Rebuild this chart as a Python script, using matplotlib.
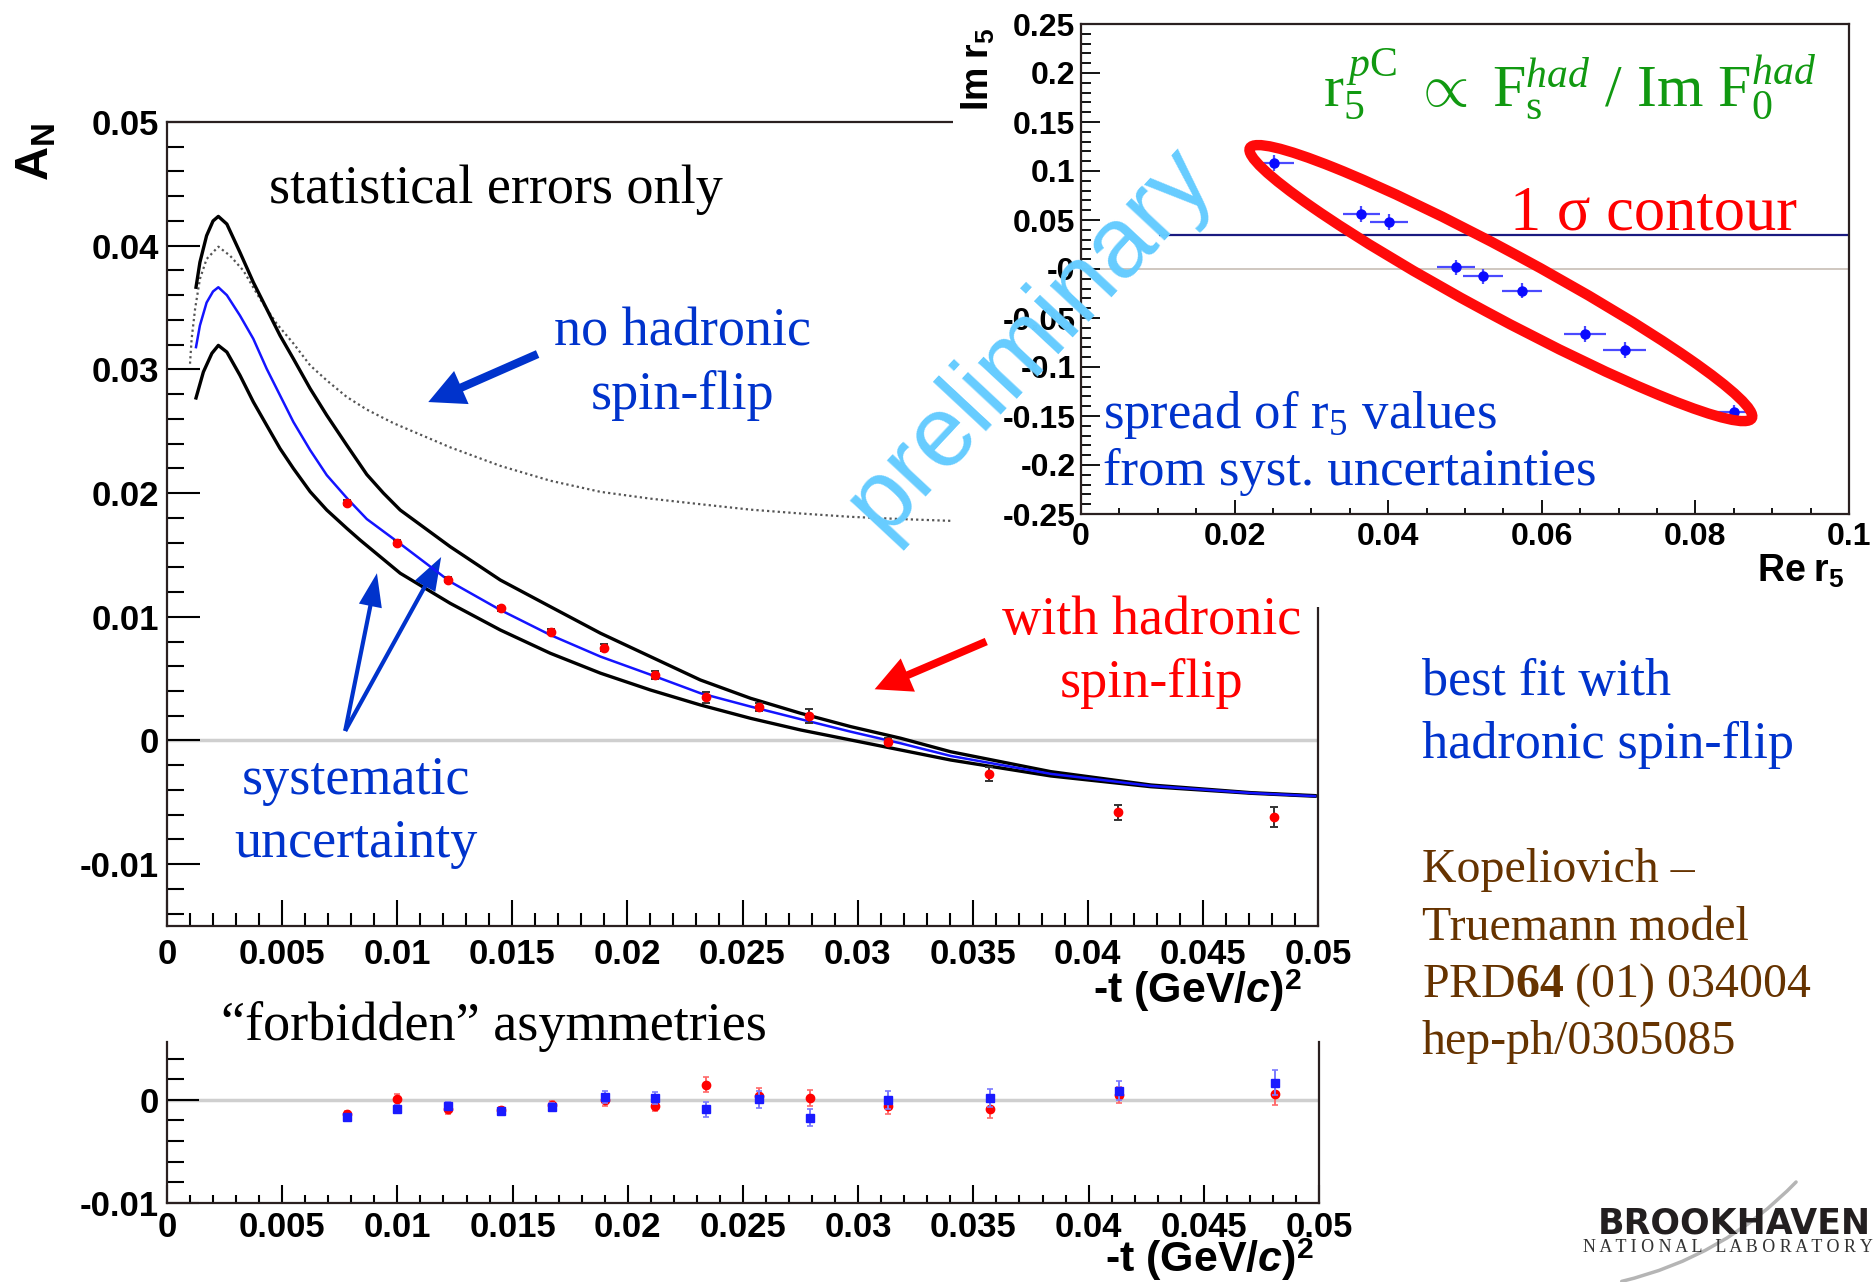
import numpy as np
import matplotlib
matplotlib.use("Agg")
import matplotlib.pyplot as plt
from matplotlib.ticker import FixedLocator, FixedFormatter, MultipleLocator
from matplotlib.patches import Rectangle, Ellipse, FancyArrowPatch
from matplotlib import transforms

plt.rcParams['font.family'] = ['Liberation Sans', 'DejaVu Sans']
plt.rcParams['font.weight'] = 'bold'
plt.rcParams['mathtext.fontset'] = 'custom'
plt.rcParams['mathtext.rm'] = 'Liberation Serif:weight=normal'
plt.rcParams['mathtext.it'] = 'Liberation Serif:style=italic:weight=normal'
plt.rcParams['mathtext.bf'] = 'Liberation Serif:weight=bold'
plt.rcParams['mathtext.sf'] = 'Liberation Sans:weight=bold'
plt.rcParams['mathtext.tt'] = 'Liberation Sans:style=italic:weight=bold'

# ---------------- data ----------------
t_vals = [0.0078, 0.0100, 0.0122, 0.0145, 0.0167, 0.0190, 0.0212,
          0.0234, 0.0257, 0.0279, 0.0313, 0.0357, 0.0413, 0.0481]
an_vals = [0.0192, 0.0160, 0.0130, 0.0107, 0.0088, 0.0075, 0.0053,
           0.0035, 0.0027, 0.0020, -0.0001, -0.0027, -0.0058, -0.0062]
an_err = [0.0002, 0.0002, 0.0002, 0.0002, 0.0002, 0.0003, 0.0003,
          0.00045, 0.0003, 0.00055, 0.0003, 0.00055, 0.0006, 0.0008]

fit_t = [0.00126, 0.00143, 0.00172, 0.00200, 0.00223, 0.0026, 0.00317, 0.00375, 0.00433,
         0.00491, 0.00549, 0.00622, 0.00694, 0.00786, 0.00868, 0.01013, 0.0123,
         0.01448, 0.01665, 0.01883, 0.021, 0.02317, 0.02535, 0.02752, 0.0297,
         0.03187, 0.03404, 0.03839, 0.04274, 0.04709, 0.04987]
fit_an = [0.0318, 0.03355, 0.0354, 0.0363, 0.03664, 0.0360, 0.03435, 0.03247, 0.03005,
          0.0279, 0.02575, 0.02347, 0.02145, 0.0195, 0.0179, 0.0159, 0.01284,
          0.01055, 0.00853, 0.00678, 0.00532, 0.00382, 0.00274, 0.00172, 0.00071,
          -0.00023, -0.00125, -0.0027, -0.00367, -0.00425, -0.0045]

sys_hi_t = [0.00126, 0.00143, 0.00172, 0.00200, 0.00223, 0.0026, 0.00317, 0.00375, 0.00433,
            0.00491, 0.00549, 0.00622, 0.00694, 0.00781, 0.00868, 0.00940, 0.01013, 0.0123,
            0.01448, 0.01665, 0.01883, 0.021, 0.02317, 0.02535, 0.02752, 0.0297,
            0.03187, 0.03404, 0.03839, 0.04274, 0.04709, 0.04987]
sys_hi_an = [0.03664, 0.03866, 0.04081, 0.04200, 0.04237, 0.04175, 0.03946, 0.03704, 0.03489,
             0.03274, 0.03086, 0.02844, 0.02629, 0.02387, 0.0215, 0.0200, 0.01863, 0.01567,
             0.01297, 0.01082, 0.00867, 0.00678, 0.00489, 0.00341, 0.0022, 0.00112,
             0.00018, -0.00091, -0.00252, -0.0036, -0.00422, -0.00446]

sys_lo_t = [0.00126, 0.00158, 0.00195, 0.00223, 0.0026, 0.00317, 0.00375, 0.00433, 0.00491,
            0.00549, 0.00622, 0.00694, 0.00781, 0.00839, 0.01013, 0.0123, 0.01448,
            0.01665, 0.01883, 0.021, 0.02317, 0.02535, 0.02752, 0.0297, 0.03187,
            0.03404, 0.03839, 0.04274, 0.04709, 0.04987]
sys_lo_an = [0.02769, 0.02979, 0.0313, 0.03194, 0.0314, 0.02952, 0.02737, 0.02548, 0.0236,
             0.02199, 0.02011, 0.01863, 0.01715, 0.0162, 0.01352, 0.01109, 0.00893,
             0.00705, 0.00544, 0.00408, 0.00287, 0.00179, 0.00085, 0.00004, -0.00077,
             -0.00158, -0.00287, -0.00374, -0.00427, -0.00451]

nohad_t = [0.0010, 0.00107, 0.00122, 0.00143, 0.00172, 0.00223, 0.00274, 0.00332,
           0.00404, 0.00477, 0.00549, 0.00622, 0.00694, 0.00781, 0.00868, 0.00984,
           0.0123, 0.01448, 0.01665, 0.01883, 0.021, 0.02317, 0.02535, 0.02752,
           0.0297, 0.03187, 0.03412]
nohad_an = [0.03046, 0.03247, 0.03489, 0.03731, 0.03892, 0.03992, 0.03919, 0.03798,
            0.0357, 0.03368, 0.0321, 0.03032, 0.02911, 0.02777, 0.02675, 0.02565,
            0.0237, 0.0222, 0.0210, 0.0201, 0.01955, 0.0191, 0.01866, 0.01835,
            0.01808, 0.0179, 0.01775]

forb_red = [-0.00135, 0.00003, -0.00094, -0.0010, -0.00048, -0.00006, -0.0006,
            0.00148, 0.0004, 0.00016, -0.0006, -0.00094, 0.00048, 0.00058]
forb_red_err = [0.0003, 0.0005, 0.0004, 0.0003, 0.0004, 0.0005, 0.0005,
                0.0007, 0.0007, 0.0008, 0.0008, 0.0008, 0.0008, 0.0011]
forb_blue = [-0.00168, -0.00087, -0.0006, -0.00106, -0.00071, 0.00026, 0.00016,
             -0.00094, 0.00003, -0.00174, 0.0, 0.00016, 0.0009, 0.00165]
forb_blue_err = [0.0003, 0.0004, 0.0004, 0.0003, 0.0004, 0.0006, 0.0006,
                 0.0007, 0.0008, 0.0008, 0.0009, 0.0009, 0.0009, 0.0012]

re_r5 = [0.0251, 0.0365, 0.0401, 0.0488, 0.0524, 0.0574, 0.0656, 0.0708, 0.0850]
im_r5 = [0.108, 0.0564, 0.0477, 0.0016, -0.0075, -0.0221, -0.0666, -0.0824, -0.1463]
re_r5_err = [0.0026, 0.0024, 0.0025, 0.0025, 0.0026, 0.0026, 0.0027, 0.0028, 0.0027]
im_r5_err = [0.008, 0.008, 0.008, 0.008, 0.008, 0.008, 0.008, 0.008, 0.008]
best_r5_level = 0.0345
best_r5_start = 0.0101
contour_center = (0.05467, -0.01439)

main_xticks = [0, 0.005, 0.01, 0.015, 0.02, 0.025, 0.03, 0.035, 0.04, 0.045, 0.05]
main_xticklabels = ['0', '0.005', '0.01', '0.015', '0.02', '0.025', '0.03',
                    '0.035', '0.04', '0.045', '0.05']
main_yticks = [-0.01, 0, 0.01, 0.02, 0.03, 0.04, 0.05]
main_yticklabels = ['-0.01', '0', '0.01', '0.02', '0.03', '0.04', '0.05']
forb_yticks = [-0.01, 0]
forb_yticklabels = ['-0.01', '0']
inset_xticks = [0, 0.02, 0.04, 0.06, 0.08, 0.1]
inset_xticklabels = ['0', '0.02', '0.04', '0.06', '0.08', '0.1']
inset_yticks = [-0.25, -0.2, -0.15, -0.1, -0.05, 0, 0.05, 0.1, 0.15, 0.2, 0.25]
inset_yticklabels = ['-0.25', '-0.2', '-0.15', '-0.1', '-0.05', '-0', '0.05',
                     '0.1', '0.15', '0.2', '0.25']

# ---------------- figure ----------------
W, H = 1873, 1282
fig = plt.figure(figsize=(W / 100, H / 100), dpi=100)
fig.patch.set_facecolor('white')


def fx(X):
    return X / W


def fy(Y):
    return 1 - Y / H


def ftext(X, Y, s, **kw):
    return fig.text(fx(X), fy(Y), s, **kw)


SERIF = dict(family=['Liberation Serif', 'DejaVu Serif'], weight='normal')
BLUE_TXT = '#0033cc'
FRAME = '#2a2020'

# ---------- main panel ----------
ax = fig.add_axes([fx(167), fy(926), (1318 - 167) / W, (926 - 122) / H])
ax.set_zorder(0)
ax.set_xlim(0, 0.05)
ax.set_ylim(-0.015, 0.05)
ax.axhline(0, color='#cfcfcf', lw=2.5, zorder=1)
ax.plot(nohad_t, nohad_an, color='#555555', lw=1.6, ls=(0, (1, 1.4)), zorder=2)
ax.plot(sys_hi_t, sys_hi_an, color='black', lw=2.4, zorder=3, solid_joinstyle='round')
ax.plot(sys_lo_t, sys_lo_an, color='black', lw=2.4, zorder=3, solid_joinstyle='round')
ax.plot(fit_t, fit_an, color='#1414ff', lw=1.8, zorder=4, solid_joinstyle='round')
ax.errorbar(t_vals, an_vals, yerr=an_err, fmt='o', color='#ff0000', ms=6,
            ecolor='#333333', elinewidth=1.4, capsize=3, capthick=1.4, zorder=5)

ax.xaxis.set_major_locator(FixedLocator(main_xticks))
ax.xaxis.set_major_formatter(FixedFormatter(main_xticklabels))
ax.xaxis.set_minor_locator(MultipleLocator(0.001))
ax.yaxis.set_major_locator(FixedLocator(main_yticks))
ax.yaxis.set_major_formatter(FixedFormatter(main_yticklabels))
ax.yaxis.set_minor_locator(MultipleLocator(0.002))
ax.tick_params(which='both', direction='in', top=False, right=False,
               colors='black', width=1.5, labelsize=25)
ax.tick_params(axis='y', which='major', length=24, pad=6)
ax.tick_params(axis='y', which='minor', length=12)
ax.tick_params(axis='x', which='major', length=19, pad=9)
ax.tick_params(axis='x', which='minor', length=9.5)
for s in ax.spines.values():
    s.set_linewidth(1.6)
    s.set_color(FRAME)

# arrows
ax.annotate('', xy=(0.01135, 0.02736), xytext=(0.0161, 0.03124),
            arrowprops=dict(arrowstyle='simple,head_length=0.65,head_width=0.65,tail_width=0.15',
                            mutation_scale=40, color='#0033cc', lw=0, shrinkA=0, shrinkB=0))
ax.annotate('', xy=(0.03074, 0.00414), xytext=(0.03559, 0.0080),
            arrowprops=dict(arrowstyle='simple,head_length=0.65,head_width=0.65,tail_width=0.14',
                            mutation_scale=40, color='#ff0000', lw=0, shrinkA=0, shrinkB=0))
for tip in [(0.00912, 0.01352), (0.01191, 0.01483)]:
    ax.annotate('', xy=tip, xytext=(0.00774, 0.00077),
                arrowprops=dict(arrowstyle='simple,head_length=0.6,head_width=0.42,tail_width=0.075',
                                mutation_scale=40, color='#0033cc', lw=0, shrinkA=0, shrinkB=0))

# ---------- "forbidden" panel ----------
ax3 = fig.add_axes([fx(167), fy(1203), (1319 - 167) / W, (1203 - 1042) / H])
ax3.set_xlim(0, 0.05)
ax3.set_ylim(-0.01, 0.0056)
ax3.axhline(0, color='#cfcfcf', lw=2.5, zorder=1)
ax3.errorbar(t_vals, forb_red, yerr=forb_red_err, fmt='o', color='#ff0000', ms=6,
             ecolor='#ff6a6a', elinewidth=1.4, capsize=2.5, capthick=1.2, zorder=4)
ax3.errorbar(t_vals, forb_blue, yerr=forb_blue_err, fmt='s', color='#1a1aff', ms=6,
             ecolor='#7a7aff', elinewidth=1.4, capsize=2.5, capthick=1.2, zorder=5)
ax3.xaxis.set_major_locator(FixedLocator(main_xticks))
ax3.xaxis.set_major_formatter(FixedFormatter(main_xticklabels))
ax3.xaxis.set_minor_locator(MultipleLocator(0.001))
ax3.yaxis.set_major_locator(FixedLocator(forb_yticks))
ax3.yaxis.set_major_formatter(FixedFormatter(forb_yticklabels))
ax3.yaxis.set_minor_locator(MultipleLocator(0.002))
ax3.tick_params(which='both', direction='in', top=False, right=False,
                colors='black', width=1.5, labelsize=25)
ax3.tick_params(axis='y', which='major', length=23, pad=6)
ax3.tick_params(axis='y', which='minor', length=12)
ax3.tick_params(axis='x', which='major', length=13, pad=6)
ax3.tick_params(axis='x', which='minor', length=6)
ax3.spines['top'].set_visible(False)
for k in ['left', 'right', 'bottom']:
    ax3.spines[k].set_linewidth(1.6)
    ax3.spines[k].set_color(FRAME)

# ---------- white cover + inset ----------
fig.add_artist(Rectangle((fx(953), fy(607)), 1 - fx(953), 607 / H,
                         transform=fig.transFigure, facecolor='white',
                         edgecolor='none', zorder=1))

ax2 = fig.add_axes([fx(1081), fy(514), (1849 - 1081) / W, (514 - 24) / H])
ax2.set_zorder(2)
ax2.set_facecolor('white')
ax2.set_xlim(0, 0.1)
ax2.set_ylim(-0.25, 0.25)
ax2.axhline(0, color='#cbc3bb', lw=1.3, zorder=1)
ax2.hlines(best_r5_level, best_r5_start, 0.1, color='#1a1a80', lw=1.6, zorder=2)
ax2.errorbar(re_r5, im_r5, xerr=re_r5_err, yerr=im_r5_err, fmt='o', color='#0a0aff',
             ms=6.5, ecolor='#4a4aff', elinewidth=1.6, capsize=0, zorder=5)
ell_tr = fig.dpi_scale_trans + transforms.ScaledTranslation(
    contour_center[0], contour_center[1], ax2.transData)
ax2.add_artist(Ellipse((0, 0), width=2 * 285 / 100, height=2 * 32 / 100, angle=-28.3,
                       transform=ell_tr, fill=False, edgecolor='#ff0a0a', lw=7.5, zorder=6))
ax2.xaxis.set_major_locator(FixedLocator(inset_xticks))
ax2.xaxis.set_major_formatter(FixedFormatter(inset_xticklabels))
ax2.xaxis.set_minor_locator(MultipleLocator(0.005))
ax2.yaxis.set_major_locator(FixedLocator(inset_yticks))
ax2.yaxis.set_major_formatter(FixedFormatter(inset_yticklabels))
ax2.yaxis.set_minor_locator(MultipleLocator(0.01))
ax2.tick_params(which='both', direction='in', top=False, right=False,
                colors='black', width=1.3, labelsize=23)
ax2.tick_params(axis='y', which='major', length=14, pad=4)
ax2.tick_params(axis='y', which='minor', length=7)
ax2.tick_params(axis='x', which='major', length=10, pad=6)
ax2.tick_params(axis='x', which='minor', length=4.5)
for s in ax2.spines.values():
    s.set_linewidth(1.6)
    s.set_color(FRAME)

# ---------- axis titles ----------
XLAB = r'-t (GeV/$\mathtt{c}$)$^{\mathsf{2}}$'
ftext(37, 152, r'$\mathsf{A_N}$', rotation=90, ha='center', va='center', fontsize=34, zorder=3)
ftext(1302, 1003, XLAB, ha='right', va='baseline', fontsize=31, zorder=3)
ftext(1314, 1272, XLAB, ha='right', va='baseline', fontsize=31, zorder=3)
ftext(978, 69, r'$\mathsf{Im\ r_5}$', rotation=90, ha='center', va='center',
      fontsize=27, zorder=3)
ftext(1845, 582, r'$\mathsf{Re\ r_5}$', ha='right', va='baseline', fontsize=27, zorder=3)

# ---------- annotations ----------
ftext(269, 203, 'statistical errors only', color='black', fontsize=39,
      va='baseline', ha='left', zorder=4, **SERIF)
ftext(683, 345, 'no hadronic', color=BLUE_TXT, fontsize=39, ha='center',
      va='baseline', zorder=4, **SERIF)
ftext(683, 409, 'spin-flip', color=BLUE_TXT, fontsize=39, ha='center',
      va='baseline', zorder=4, **SERIF)
ftext(1152, 634, 'with hadronic', color='#ff0000', fontsize=39, ha='center',
      va='baseline', zorder=4, **SERIF)
ftext(1152, 697, 'spin-flip', color='#ff0000', fontsize=39, ha='center',
      va='baseline', zorder=4, **SERIF)
ftext(356, 794, 'systematic', color=BLUE_TXT, fontsize=39, ha='center',
      va='baseline', zorder=4, **SERIF)
ftext(356, 857, 'uncertainty', color=BLUE_TXT, fontsize=39, ha='center',
      va='baseline', zorder=4, **SERIF)
ftext(221, 1040, '\u201cforbidden\u201d asymmetries', color='black', fontsize=39,
      ha='left', va='baseline', zorder=4, **SERIF)

ftext(1323, 106, r'r$_5^{\,p\mathrm{C}}$ $\propto$ F$_\mathrm{s}^{had}$ / Im F$_0^{had}$',
      color='#119911', fontsize=43, ha='left', va='baseline', zorder=4, **SERIF)
ftext(1510, 230, '1 \u03c3 contour', color='#ff0000', fontsize=45, ha='left',
      va='baseline', zorder=4, **SERIF)
ftext(1103, 428, r'spread of r$_5$ values', color=BLUE_TXT, fontsize=38, ha='left',
      va='baseline', zorder=4, **SERIF)
ftext(1103, 485, 'from syst. uncertainties', color=BLUE_TXT, fontsize=38, ha='left',
      va='baseline', zorder=4, **SERIF)

ftext(1030, 340, 'preliminary', rotation=47, rotation_mode='anchor', ha='center',
      va='center', fontsize=72, color='#66ccff', family=['Liberation Sans'],
      weight='normal', zorder=10)

ftext(1422, 695, 'best fit with', color=BLUE_TXT, fontsize=37.5, ha='left',
      va='baseline', zorder=4, **SERIF)
ftext(1422, 758, 'hadronic spin-flip', color=BLUE_TXT, fontsize=37.5, ha='left',
      va='baseline', zorder=4, **SERIF)
BROWN = '#663300'
ftext(1422, 882, 'Kopeliovich \u2013', color=BROWN, fontsize=34.5, ha='left',
      va='baseline', zorder=4, **SERIF)
ftext(1422, 940, 'Truemann model', color=BROWN, fontsize=34.5, ha='left',
      va='baseline', zorder=4, **SERIF)
ftext(1422, 997, r'PRD$\mathbf{64}$ (01) 034004', color=BROWN, fontsize=34.5,
      ha='left', va='baseline', zorder=4, **SERIF)
ftext(1422, 1054, 'hep-ph/0305085', color=BROWN, fontsize=34.5, ha='left',
      va='baseline', zorder=4, **SERIF)

# ---------- BNL logo ----------
fig.add_artist(FancyArrowPatch((fx(1619), fy(1282)), (fx(1798), fy(1180)),
                               arrowstyle='-', connectionstyle='arc3,rad=0.15',
                               transform=fig.transFigure, color='#b5b5b5', lw=2.5,
                               zorder=3))
ftext(1598, 1234, 'BROOKHAVEN', color='#231f20', fontsize=25, ha='left',
      va='baseline', family=['DejaVu Sans'], weight='heavy', zorder=4)
ftext(1583, 1252, 'N A T I O N A L   L A B O R A T O R Y', color='#333333',
      fontsize=13, ha='left', va='baseline', zorder=4, **SERIF)

fig.savefig('out.png', dpi=100, facecolor='white')
